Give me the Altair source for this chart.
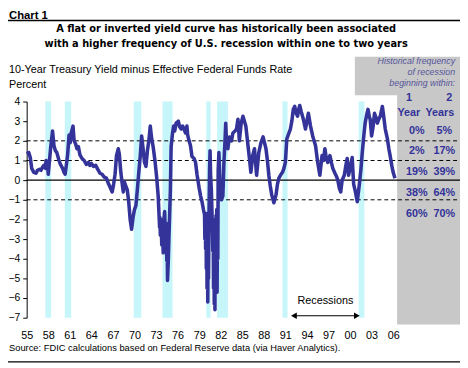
import altair as alt
import pandas as pd

# ---------------- data ----------------
years = [
    1955.0, 1955.3, 1955.5, 1955.7, 1956.0, 1956.3, 1956.5, 1956.8, 1957.0, 1957.2,
    1957.4, 1957.6, 1957.7, 1957.9, 1958.0, 1958.2, 1958.35, 1958.6, 1958.8, 1959.0,
    1959.2, 1959.5, 1959.7, 1960.0, 1960.2, 1960.35, 1960.5, 1960.7, 1960.9, 1961.05,
    1961.2, 1961.45, 1961.6, 1961.8, 1962.0, 1962.2, 1962.4, 1962.7, 1963.0, 1963.3,
    1963.6, 1963.8, 1964.0, 1964.3, 1964.6, 1964.9, 1965.2, 1965.5, 1965.8, 1966.1,
    1966.4, 1966.6, 1966.9, 1967.1, 1967.3, 1967.5, 1967.75, 1967.9, 1968.1, 1968.3,
    1968.45, 1968.6, 1968.8, 1969.0, 1969.2, 1969.4, 1969.6, 1969.8, 1970.0, 1970.2,
    1970.4, 1970.6, 1970.8, 1971.0, 1971.2, 1971.4, 1971.6, 1971.8, 1972.0, 1972.2,
    1972.4, 1972.6, 1972.85, 1973.1, 1973.3,
    1973.5, 1973.55, 1973.6, 1973.7, 1973.8, 1973.9, 1974.0, 1974.1, 1974.2, 1974.3,
    1974.4, 1974.5, 1974.55, 1974.6, 1974.7, 1974.8,
    1975.0, 1975.1, 1975.3,
    1975.45, 1975.6, 1975.8, 1976.1, 1976.3, 1976.5, 1976.7, 1976.9, 1977.1, 1977.3,
    1977.4, 1977.6, 1977.8, 1978.0, 1978.3, 1978.5, 1978.7, 1979.0, 1979.2, 1979.4,
    1979.6, 1979.75, 1979.8, 1979.85, 1979.9, 1979.95, 1980.0, 1980.05, 1980.1, 1980.15,
    1980.2, 1980.25, 1980.3, 1980.35, 1980.4, 1980.45, 1980.52, 1980.6, 1980.7, 1980.8,
    1980.9, 1980.95, 1981.0, 1981.05, 1981.1, 1981.15, 1981.2, 1981.25, 1981.3, 1981.35,
    1981.4, 1981.45, 1981.5, 1981.55, 1981.6, 1981.65, 1981.75,
    1981.9, 1982.1, 1982.3, 1982.45, 1982.6,
    1982.7, 1982.8, 1983.0, 1983.2, 1983.5, 1983.7, 1984.0, 1984.2, 1984.4, 1984.6,
    1984.85, 1985.1, 1985.3, 1985.5, 1985.8, 1986.0, 1986.2, 1986.45, 1986.7, 1986.85,
    1987.0, 1987.3, 1987.6, 1987.9, 1988.1, 1988.3, 1988.5, 1988.7, 1988.9, 1989.1,
    1989.4, 1989.7, 1989.9, 1990.1, 1990.4, 1990.6, 1990.8, 1991.0, 1991.2, 1991.4,
    1991.7, 1991.9, 1992.1, 1992.3, 1992.5, 1992.7, 1992.85, 1993.0, 1993.2, 1993.5,
    1993.8, 1994.0, 1994.2, 1994.5, 1994.8, 1995.2, 1995.5, 1995.8, 1996.1, 1996.3,
    1996.5, 1996.7, 1996.9, 1997.2, 1997.4, 1997.6, 1997.9, 1998.1, 1998.3, 1998.5,
    1998.7, 1998.9, 1999.2, 1999.4, 1999.6, 1999.8, 2000.0, 2000.3, 2000.5, 2000.75,
    2001.0, 2001.2, 2001.3, 2001.5, 2001.7, 2001.9, 2002.1, 2002.3, 2002.5, 2002.7,
    2002.8, 2003.0, 2003.2, 2003.4, 2003.6, 2003.8, 2004.0, 2004.2, 2004.5, 2004.7,
    2004.9, 2005.2, 2005.4, 2005.6, 2005.8, 2006.0, 2006.25,
]
spread = [
    1.35, 1.4, 1.15, 0.6, 0.4, 0.35, 0.5, 0.55, 0.5, 0.65,
    0.75, 0.6, 1.0, 0.8, 0.3, 1.1, 1.7, 2.5, 1.75, 1.5,
    1.4, 1.0, 0.8, 0.6, 0.4, 0.3, 0.7, 1.3, 2.3, 1.9,
    2.4, 2.75, 2.0, 1.85, 1.6, 1.7, 1.3, 1.1, 1.0, 0.8,
    0.9, 0.75, 0.85, 0.7, 0.75, 0.55, 0.35, 0.3, 0.15, 0.1,
    -0.2, -0.35, -0.6, -0.2, 0.3, 1.25, 1.6, 1.3, 0.4, -0.2,
    -0.6, -0.1, -0.3, -0.5, -1.1, -2.0, -2.5, -1.9, -1.5, -1.3,
    -0.5, 0.4, 1.2, 2.25, 1.6, 0.9, 0.7, 1.5, 2.0, 2.75,
    2.1, 1.7, 1.0, 0.1, -0.8,
    -2.4, -1.9, -2.8, -2.0, -3.3, -2.3, -3.7, -2.0, -1.6, -2.8,
    -2.2, -4.1, -3.0, -5.1, -4.2, -2.9,
    -0.5, 1.7, 2.4,
    2.75, 2.5, 2.9, 3.0, 2.7, 2.6, 2.75, 2.6, 2.4, 2.75,
    2.3, 2.0, 1.75, 1.2, 1.1, 0.9, 0.3, -0.4, -0.8, -1.1,
    -1.5, -1.75, -3.0, -1.7, -3.5, -1.8, -4.5, -1.7, -5.5, -2.0,
    -6.2, -2.2, -5.0, -2.5, -1.0, 0.5, 1.5, 0.2, -0.5, -1.8,
    -3.6, -2.0, -5.5, -2.0, -6.3, -2.5, -6.6, -2.0, -5.5, -1.8,
    -5.0, -1.5, -5.7, -2.0, -4.0, 0.5, 1.4,
    -0.2, -1.0, -0.8, 0.9, 2.0,
    2.9, 2.0, 1.6, 2.2, 2.0, 2.4, 2.5, 2.6, 3.1, 2.0,
    2.9, 3.25, 3.0, 2.75, 1.75, 1.1, 0.4, 1.25, 1.6, 0.9,
    0.25, 1.4, 1.9, 2.2, 1.9, 1.6, 1.0, 0.25, -0.3, -0.75,
    -1.15, -0.75, -0.2, 0.1, 0.3, 0.4, 0.6, 0.9, 2.1, 2.3,
    2.6, 3.0, 3.6, 3.75, 3.4, 3.25, 3.6, 3.8, 3.5, 3.1,
    2.6, 3.0, 3.4, 2.75, 2.25, 1.75, 0.9, 0.25, 1.25, 1.0,
    1.6, 1.1, 0.9, 1.25, 0.9, 0.6, 0.35, 0.2, 0.0, -0.4,
    -0.6, 0.0, 0.25, 0.7, 1.1, 0.25, 0.6, 1.15, -0.2, -0.6,
    -1.1, -0.5, -0.2, 0.5, 1.4, 2.2, 2.9, 3.3, 3.6, 3.2,
    3.1, 2.25, 2.7, 3.4, 3.2, 2.9, 3.1, 3.25, 3.75, 3.2,
    2.6, 2.1, 1.6, 1.2, 0.75, 0.4, 0.1,
]
rec_start = [1957.6, 1960.3, 1969.9, 1973.9, 1980.0, 1981.5, 1990.6, 2001.2]
rec_end = [1958.4, 1961.2, 1970.95, 1975.3, 1980.6, 1983.0, 1991.3, 2002.0]
dashed_levels = [2, 1, -1]
solid_levels = [0]
x_ticks = [1955, 1958, 1961, 1964, 1967, 1970, 1973, 1976, 1979, 1982,
           1985, 1988, 1991, 1994, 1997, 2000, 2003, 2006]
y_ticks = [4, 3, 2, 1, 0, -1, -2, -3, -4, -5, -6, -7]
head_words = ["1", "2"]
head_units = ["Year", "Years"]
one_year = ["0%", "2%", "19%", "38%", "60%"]
two_years = ["5%", "17%", "39%", "64%", "70%"]

chart_label = "Chart 1"
title_lines = [
    "A flat or inverted yield curve has historically been associated",
    "with a higher frequency of U.S. recession within one to two years",
]
sub_lines = ["10-Year Treasury Yield minus Effective Federal Funds Rate", "Percent"]
note_lines = ["Historical frequency", "of recession", "beginning within:"]
rec_label = "Recessions"
source = "Source: FDIC calculations based on Federal Reserve data (via Haver Analytics)."

# ---------------- styles ----------------
W, H = 377, 220
FONT = "Liberation Sans"
BFONT = "DejaVu Sans"
NAVY = "#333399"
BAND = "#c6f5fa"
GRAY = "#c8c8c8"

xs = alt.Scale(domain=[1955, 2006.55], nice=False, zero=False)
ys = alt.Scale(domain=[-7, 4], nice=False, zero=False)
x_axis = alt.Axis(values=x_ticks, labelExpr="substring(toString(datum.value), 2, 4)",
                  ticks=False, tickSize=0, domain=False, grid=False, title=None,
                  labelPadding=12, labelFontSize=11, labelColor="black", labelFont=FONT,
                  labelFlush=False, labelOverlap=False)
y_axis = alt.Axis(values=y_ticks, ticks=True, tickSize=4, tickColor="black",
                  domain=True, domainColor="black", grid=False, title=None,
                  labelPadding=3, labelFontSize=10.5, labelColor="black", labelFont=FONT)

line_df = pd.DataFrame({"year": years, "spread": spread})
rec_df = pd.DataFrame({"start": rec_start, "end": rec_end})
dash_df = pd.DataFrame({"level": dashed_levels})
solid_df = pd.DataFrame({"level": solid_levels})
dummy = pd.DataFrame({"d": [0]})

layers = []

bands = alt.Chart(rec_df).mark_rect(color=BAND).encode(
    x=alt.X("start:Q", scale=xs, axis=x_axis),
    x2="end:Q",
    y=alt.value(0), y2=alt.value(H),
)
layers.append(bands)

# gray side panel
layers.append(alt.Chart(dummy).mark_rect(color=GRAY).encode(
    x=alt.value(334), x2=alt.value(441), y=alt.value(-45.5), y2=alt.value(-6.5)))
layers.append(alt.Chart(dummy).mark_rect(color=GRAY).encode(
    x=alt.value(377), x2=alt.value(441), y=alt.value(-7), y2=alt.value(227)))

layers.append(alt.Chart(dash_df).mark_rule(color="black", strokeWidth=1, strokeDash=[4, 3]).encode(
    y=alt.Y("level:Q", scale=ys, axis=y_axis), x=alt.value(0), x2=alt.value(441)))
layers.append(alt.Chart(solid_df).mark_rule(color="black", strokeWidth=1.2).encode(
    y=alt.Y("level:Q", scale=ys, axis=y_axis), x=alt.value(0), x2=alt.value(441)))

layers.append(alt.Chart(line_df).mark_line(color=NAVY, strokeWidth=3.6, strokeJoin="round").encode(
    x=alt.X("year:Q", scale=xs, axis=x_axis),
    y=alt.Y("spread:Q", scale=ys, axis=y_axis),
))


def txt(text, x, y, size=11, weight="normal", style="normal", align="left", color="black", font=FONT):
    return alt.Chart(dummy).mark_text(
        text=text, font=font, fontSize=size, fontWeight=weight, fontStyle=style,
        align=align, baseline="alphabetic", color=color,
    ).encode(x=alt.value(x), y=alt.value(y))


# header
layers.append(txt(chart_label, -18, -84, size=11.5, weight="bold"))
layers.append(alt.Chart(dummy).mark_rule(color="black", strokeWidth=1.4).encode(
    x=alt.value(-19), x2=alt.value(441), y=alt.value(-82.5)))
layers.append(txt(title_lines[0], 203, -70.5, size=10, weight="bold", align="center", font=BFONT))
layers.append(txt(title_lines[1], 203, -56, size=10, weight="bold", align="center", font=BFONT))
layers.append(txt(sub_lines[0], -18, -29, size=11))
layers.append(txt(sub_lines[1], -18, -14, size=11))
for i, t in enumerate(note_lines):
    layers.append(txt(t, 436, -38.5 + 11.2 * i, size=9, style="italic", align="right", color="#55559a"))

# table
layers.append(txt(head_words[0], 389, -0.7, size=11, weight="bold", align="center", color=NAVY))
layers.append(txt(head_words[1], 430, -0.7, size=11, weight="bold", align="center", color=NAVY))
layers.append(txt(head_units[0], 389, 15, size=11, weight="bold", align="center", color=NAVY))
layers.append(txt(head_units[1], 420.5, 15, size=11, weight="bold", align="center", color=NAVY))
for i, (a, b) in enumerate(zip(one_year, two_years)):
    yy = 32.7 + 21.15 * i
    layers.append(txt(a, 397, yy, size=11, weight="bold", align="center", color=NAVY))
    layers.append(txt(b, 425, yy, size=11, weight="bold", align="center", color=NAVY))

# recessions annotation
layers.append(txt(rec_label, 304, 206, size=11, align="center"))
layers.append(alt.Chart(dummy).mark_rule(color="black", strokeWidth=1.2).encode(
    x=alt.value(272), x2=alt.value(336), y=alt.value(218)))
layers.append(alt.Chart(dummy).mark_point(shape="triangle-left", filled=True, color="black",
                                          size=45, opacity=1).encode(
    x=alt.value(272), y=alt.value(218)))
layers.append(alt.Chart(dummy).mark_point(shape="triangle-right", filled=True, color="black",
                                          size=45, opacity=1).encode(
    x=alt.value(336), y=alt.value(218)))

# footer
layers.append(txt(source, -18, 254, size=9.5))
layers.append(alt.Chart(dummy).mark_rule(color="black", strokeWidth=1.2).encode(
    x=alt.value(-19), x2=alt.value(441), y=alt.value(265)))

chart = alt.layer(*layers).properties(
    width=W, height=H,
    autosize=alt.AutoSizeParams(type="none"),
    padding={"left": 19, "top": 92, "right": 64, "bottom": 48},
    background="white",
).configure_view(stroke=None)

chart.save("out.html", embed_options={"renderer": "svg", "actions": False})
